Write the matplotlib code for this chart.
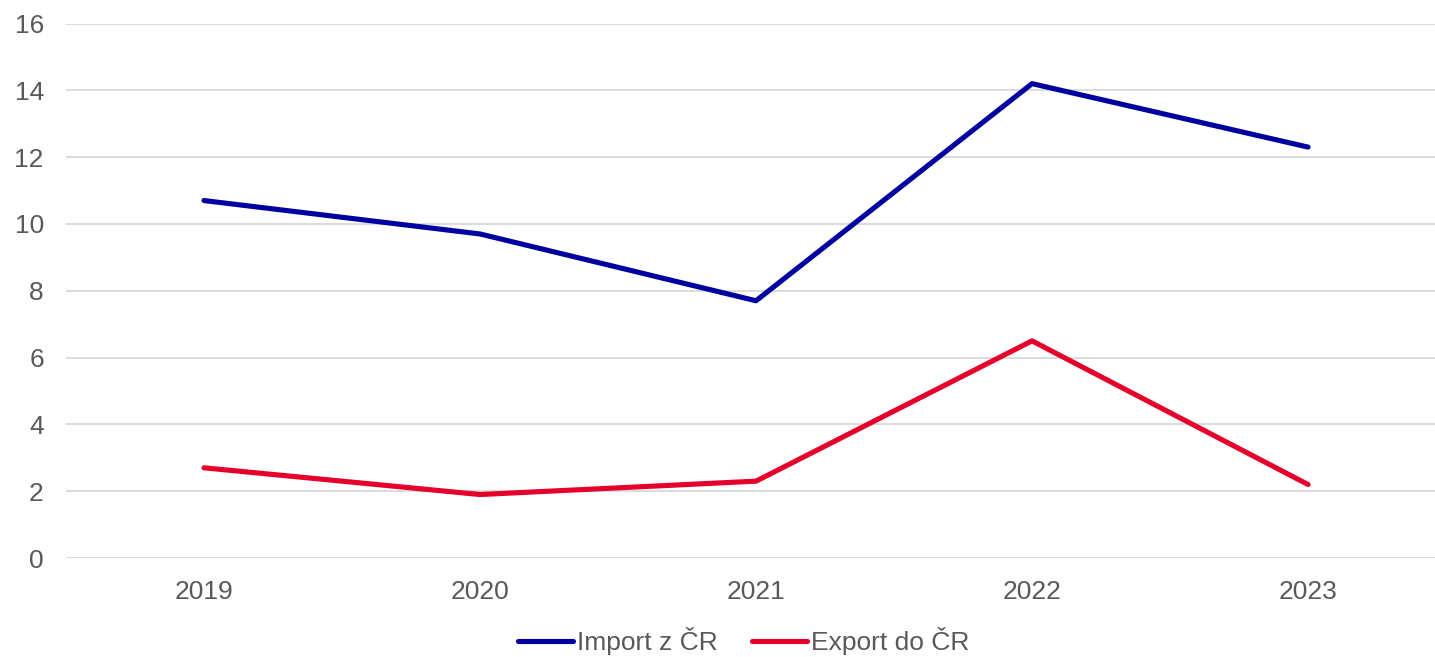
import matplotlib.pyplot as plt

plt.rcParams['font.family'] = ['Liberation Sans', 'DejaVu Sans']

years = ['2019', '2020', '2021', '2022', '2023']
import_cr = [10.7, 9.7, 7.7, 14.2, 12.3]
export_cr = [2.7, 1.9, 2.3, 6.5, 2.2]

grey = '#595959'

fig = plt.figure(figsize=(14.35, 6.57), dpi=100)
ax = fig.add_axes([66 / 1435, 99 / 657, 1369 / 1435, 534.5 / 657])

x = range(len(years))
ax.plot(x, import_cr, color='#0000A0', lw=3.7, label='Import z ČR', solid_capstyle='round')
ax.plot(x, export_cr, color='#E4002B', lw=3.7, label='Export do ČR', solid_capstyle='round')

ax.set_ylim(0, 16)
ax.set_yticks(range(0, 17, 2))
ax.set_xlim(-0.5, 4.46)
ax.set_xticks(list(x))
ax.set_xticklabels(years)
ax.grid(axis='y', color='#D9D9D9', lw=1.3)
ax.set_axisbelow(True)
for s in ax.spines.values():
    s.set_visible(False)
ax.tick_params(length=0, labelsize=19, colors=grey, pad=16)
ax.tick_params(axis='y', pad=16)

leg = ax.legend(loc='upper center', bbox_to_anchor=(0.495, -0.085), ncol=2, frameon=False,
                fontsize=19, handlelength=2.1, handletextpad=0.15, columnspacing=1.3)
for t in leg.get_texts():
    t.set_color(grey)

fig.savefig('out.png', dpi=100)
